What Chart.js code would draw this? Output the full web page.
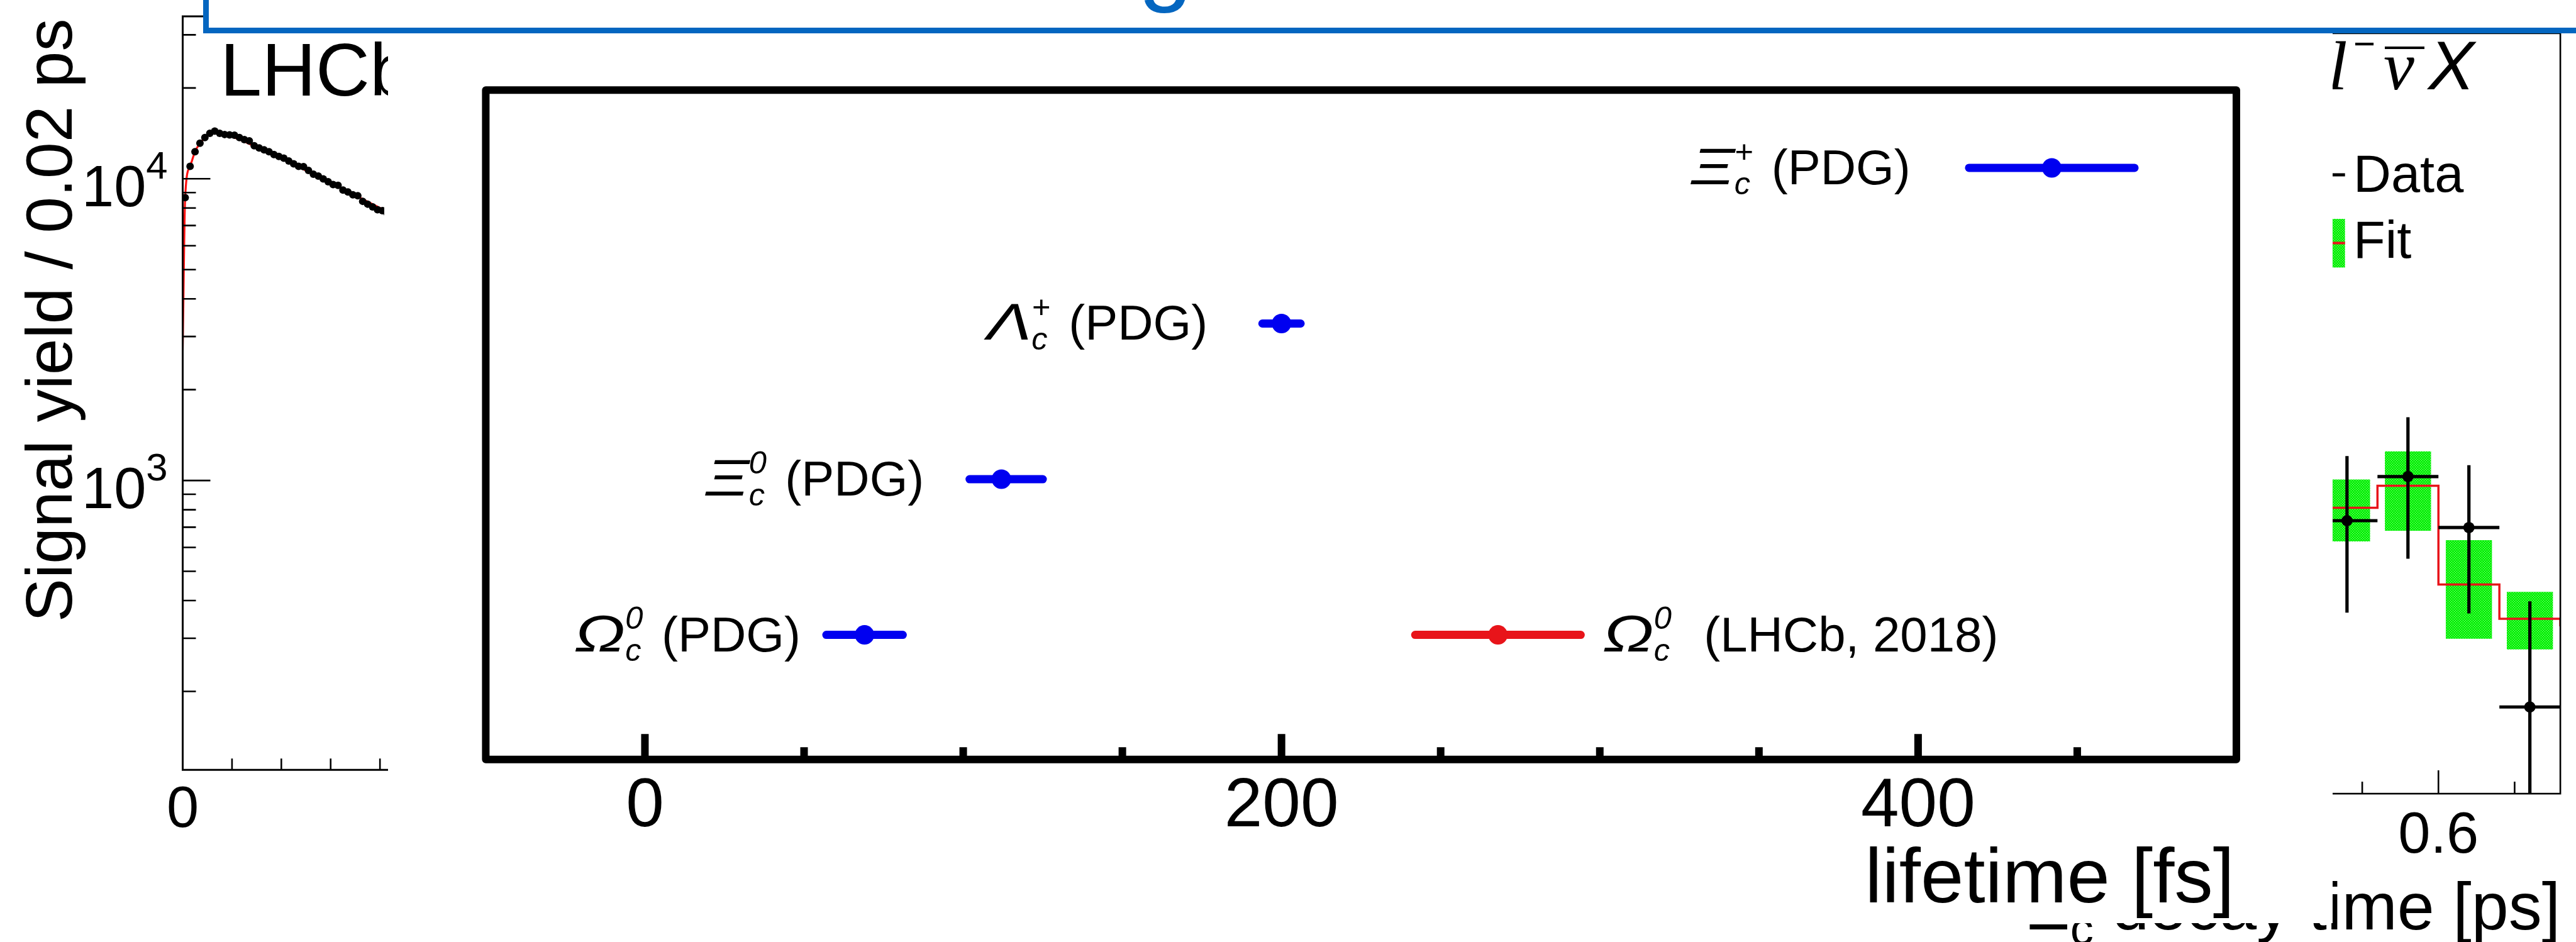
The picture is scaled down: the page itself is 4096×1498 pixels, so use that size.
<!DOCTYPE html>
<html>
<head>
<meta charset="utf-8">
<title>Charm baryon lifetimes</title>
<script src="https://cdn.jsdelivr.net/npm/chart.js@4.4.1/dist/chart.umd.min.js"></script>
<style>
  html, body { margin: 0; padding: 0; background: #fff; }
  body { width: 4096px; height: 1498px; position: relative; overflow: hidden; }
  canvas { position: absolute; display: block; }
  #cMain { background: #fff; }
  #titleBox {
    position: absolute; left: 323px; top: -200px; width: 3900px; height: 253px;
    box-sizing: border-box; background: #fff;
    border-left: 9px solid #0466c0; border-bottom: 9px solid #0466c0;
  }
  #titleText {
    position: absolute; left: 1810px; top: -142px; font: 155px/1 "Liberation Sans", Arial, sans-serif;
    color: #0466c0; white-space: nowrap;
  }
</style>
</head>
<body>
<canvas id="cLeft" width="617" height="1498" style="left:0;top:0"></canvas>
<canvas id="cRight" width="1502" height="1498" style="left:2594px;top:0"></canvas>
<canvas id="cMain" width="3092" height="1468" style="left:617px;top:0"></canvas>
<div id="titleBox"></div>
<div id="titleText">g</div>
<script>
// ---------- left panel: signal yield vs decay time (log scale) ----------
const leftTime = [0.01, 0.03, 0.05, 0.07, 0.09, 0.11, 0.13, 0.15, 0.17, 0.19, 0.21, 0.23, 0.25, 0.27,
  0.29, 0.31, 0.33, 0.35, 0.37, 0.39, 0.41, 0.43, 0.45, 0.47, 0.49, 0.51, 0.53, 0.55, 0.57, 0.59,
  0.61, 0.63, 0.65, 0.67, 0.69, 0.71, 0.73, 0.75, 0.77, 0.79, 0.81, 0.83];
const leftYield = [8665, 11000, 12290, 13120, 13690, 14140, 14390, 14140, 14020, 13980, 13940, 13690,
  13490, 13360, 12870, 12650, 12470, 12290, 12030, 11860, 11700, 11450, 11210, 11000, 10970, 10660,
  10360, 10210, 9990, 9780, 9570, 9510, 9170, 9040, 8850, 8790, 8420, 8240, 8070, 7900, 7840, 7670];
const leftFitTime = [0, 0.01, 0.03, 0.05, 0.07, 0.09, 0.11, 0.13, 0.15, 0.17, 0.19, 0.21, 0.23, 0.25,
  0.27, 0.29, 0.31, 0.33, 0.35, 0.37, 0.39, 0.41, 0.43, 0.45, 0.47, 0.49, 0.51, 0.53, 0.55, 0.57,
  0.59, 0.61, 0.63, 0.65, 0.67, 0.69, 0.71, 0.73, 0.75, 0.77, 0.79, 0.81, 0.83];
const leftFitYield = [2700, 8700, 11000, 12300, 13100, 13650, 14000, 14150, 14150, 14050, 13900, 13700,
  13500, 13300, 13050, 12850, 12600, 12400, 12200, 11950, 11750, 11550, 11350, 11150, 10950, 10750,
  10550, 10350, 10150, 9950, 9780, 9600, 9420, 9240, 9070, 8900, 8730, 8560, 8400, 8240, 8080, 7930, 7780];
const leftDecades = [1000, 10000];
const leftDecadeExp = ['3', '4'];
const leftMinorY = [200, 300, 400, 500, 600, 700, 800, 900, 2000, 3000, 4000, 5000, 6000, 7000, 8000, 9000, 20000, 30000];
const leftMinorX = [0.2, 0.4, 0.6, 0.8];
const leftXLabels = ['0'];
const leftXLabelValues = [0];

// ---------- right panel: decay-time bins with fit ----------
const binCentre = [0.54, 0.58, 0.62, 0.66];
const binHalfWidth = [0.02, 0.02, 0.02, 0.02];
const binYield = [35.9, 41.7, 35.0, 11.4];
const binErrUp = [8.5, 7.8, 8.2, 13.9];
const binErrDown = [12.1, 10.8, 11.3, 11.4];
const fitEdge = [0.52, 0.56, 0.60, 0.64, 0.68];
const fitStep = [37.6, 40.5, 27.5, 23.0, 22.0];
const fitBandLow = [33.2, 34.6, 20.4, 19.0];
const fitBandHigh = [41.3, 45.0, 33.3, 26.5];
const rightMajorX = [0.4, 0.6];
const rightMinorX = [0.35, 0.45, 0.5, 0.55, 0.65];
const rightXLabels = ['0.4', '0.6'];

// ---------- main panel: lifetime comparison ----------
const rows = ['Ξc+', 'Λc+', 'Ξc0', 'Ωc0'];
const entryRow = ['Ξc+', 'Λc+', 'Ξc0', 'Ωc0', 'Ωc0'];
const entryGreek = ['Ξ', 'Λ', 'Ξ', 'Ω', 'Ω'];
const entrySub = ['c', 'c', 'c', 'c', 'c'];
const entrySup = ['+', '+', '0', '0', '0'];
const entrySource = [' (PDG)', ' (PDG)', ' (PDG)', ' (PDG)', '  (LHCb, 2018)'];
const lifetime = [442, 200, 112, 69, 268];
const errMinus = [26, 6, 10, 12, 26];
const errPlus = [26, 6, 13, 12, 26];
const lifetimeMajor = [0, 200, 400];
const lifetimeMinor = [50, 100, 150, 250, 300, 350, 450];
const lifetimeLabels = ['0', '200', '400'];

// ---------- layout / style ----------
const K = 4096 / 7896;
const SANS = '"Liberation Sans", Arial, Helvetica, sans-serif';
const SERIF = '"Liberation Serif", "Times New Roman", serif';
const BLUE = '#0000f0';
const RED = '#e8141a';
const entryColor = i => (entrySource[i].indexOf('LHCb') >= 0 ? RED : BLUE);
// label anchor (fs) and side for each entry
const labelLayout = { side: ['left', 'left', 'left', 'left', 'right'], anchor: [397.6, 176.8, 87.7, 48.9, 301] };

function measureParts(ctx, parts) {
  let w = 0;
  for (const p of parts) {
    ctx.font = p.font;
    if (p.t !== undefined) p.w = ctx.measureText(p.t).width * (p.sx || 1);
    else p.w = Math.max(ctx.measureText(p.sub || '').width, ctx.measureText(p.sup || '').width);
    w += p.w + (p.gap || 0);
  }
  return w;
}
function drawParts(ctx, parts, x, y, align) {
  const w = measureParts(ctx, parts);
  let cx = align === 'right' ? x - w : (align === 'center' ? x - w / 2 : x);
  ctx.textAlign = 'left';
  ctx.textBaseline = 'alphabetic';
  for (const p of parts) {
    ctx.font = p.font;
    if (p.t !== undefined) {
      ctx.save();
      ctx.translate(cx, y + (p.dy || 0));
      ctx.scale(p.sx || 1, 1);
      ctx.fillText(p.t, 0, 0);
      ctx.restore();
    } else {
      if (p.sub) ctx.fillText(p.sub, cx, y + p.subDy);
      if (p.sup) ctx.fillText(p.sup, cx, y + p.supDy);
    }
    cx += p.w + (p.gap || 0);
  }
}

const common = {
  responsive: false, animation: false, events: [], devicePixelRatio: 1,
  plugins: { legend: { display: false }, tooltip: { enabled: false } }
};

// ======= left panel =======
const leftDecor = {
  id: 'leftDecor',
  afterDraw(chart) {
    const { ctx, chartArea: a, scales: { x, y } } = chart;
    ctx.save();
    ctx.strokeStyle = '#000';
    ctx.lineWidth = 3;
    ctx.beginPath();
    ctx.moveTo(a.right + 20, a.top); ctx.lineTo(a.left, a.top);
    ctx.lineTo(a.left, a.bottom); ctx.lineTo(a.right + 20, a.bottom);
    ctx.stroke();
    ctx.lineWidth = 2.6;
    ctx.beginPath();
    leftDecades.forEach(v => { const p = y.getPixelForValue(v); ctx.moveTo(a.left, p); ctx.lineTo(a.left + 44, p); });
    leftMinorY.forEach(v => { const p = y.getPixelForValue(v); ctx.moveTo(a.left, p); ctx.lineTo(a.left + 21, p); });
    leftMinorX.forEach(v => { const p = x.getPixelForValue(v); ctx.moveTo(p, a.bottom); ctx.lineTo(p, a.bottom - 18); });
    ctx.stroke();
    ctx.fillStyle = '#000';
    const F = 92;
    leftDecades.forEach((v, i) => {
      const p = y.getPixelForValue(v);
      drawParts(ctx, [
        { t: '10', font: `${F}px ${SANS}` },
        { t: leftDecadeExp[i], font: `${0.67 * F}px ${SANS}`, dy: -0.48 * F }
      ], 266.6, p + 44, 'right');
    });
    ctx.font = `${F}px ${SANS}`;
    ctx.textAlign = 'center';
    leftXLabelValues.forEach((v, i) => ctx.fillText(leftXLabels[i], x.getPixelForValue(v), 1315));
    // axis title
    ctx.save();
    ctx.translate(114, 29.6);
    ctx.rotate(-Math.PI / 2);
    ctx.font = `104px ${SANS}`;
    ctx.textAlign = 'right';
    ctx.fillText('Signal yield / 0.02 ps', 0, 0);
    ctx.restore();
    ctx.font = `119px ${SANS}`;
    ctx.textAlign = 'left';
    ctx.fillText('LHCb', 350, 152);
    ctx.restore();
  }
};

const leftArea = { left: 560 * K, top: 50 * K, bottom: 2360 * K, right: 617 };
new Chart(document.getElementById('cLeft'), {
  type: 'scatter',
  data: {
    datasets: [
      { type: 'scatter', data: leftTime.map((t, i) => ({ x: t, y: leftYield[i] })),
        backgroundColor: '#000', borderWidth: 0, pointRadius: 6, order: 0 },
      { type: 'line', data: leftFitTime.map((t, i) => ({ x: t, y: leftFitYield[i] })),
        borderColor: '#ff1010', borderWidth: 3.2, pointRadius: 0, showLine: true,
        cubicInterpolationMode: 'monotone', order: 1 }
    ]
  },
  options: Object.assign({}, common, {
    layout: { padding: { left: leftArea.left, top: leftArea.top, right: 0, bottom: 1498 - leftArea.bottom } },
    scales: {
      x: { type: 'linear', display: false, min: 0, max: (617 / K - 560) / 770 },
      y: { type: 'logarithmic', display: false, min: 109.9, max: 34550 }
    }
  }),
  plugins: [leftDecor]
});

// ======= right panel =======
function greenPattern() {
  const c = document.createElement('canvas');
  c.width = 4; c.height = 4;
  const g = c.getContext('2d');
  g.fillStyle = '#08f008'; g.fillRect(0, 0, 4, 4);
  g.fillStyle = '#a6fba6'; g.fillRect(0, 0, 1, 1); g.fillRect(2, 2, 1, 1);
  return g.createPattern(c, 'repeat');
}

const rightDecor = {
  id: 'rightDecor',
  afterDatasetsDraw(chart) {
    const { ctx, chartArea: a, scales: { x, y } } = chart;
    ctx.save();
    ctx.beginPath();
    ctx.rect(a.left, a.top, a.right - a.left, a.bottom - a.top);
    ctx.clip();
    ctx.strokeStyle = '#000';
    ctx.lineWidth = 5.2;
    ctx.beginPath();
    binCentre.forEach((c, i) => {
      const px = x.getPixelForValue(c), py = y.getPixelForValue(binYield[i]);
      ctx.moveTo(x.getPixelForValue(c - binHalfWidth[i]), py);
      ctx.lineTo(x.getPixelForValue(c + binHalfWidth[i]), py);
      ctx.moveTo(px, y.getPixelForValue(binYield[i] + binErrUp[i]));
      ctx.lineTo(px, y.getPixelForValue(binYield[i] - binErrDown[i]));
    });
    ctx.stroke();
    ctx.restore();
  },
  afterDraw(chart) {
    const { ctx, chartArea: a, scales: { x } } = chart;
    ctx.save();
    ctx.strokeStyle = '#000';
    ctx.lineWidth = 2.6;
    ctx.strokeRect(a.left, a.top, a.right - a.left, a.bottom - a.top);
    ctx.beginPath();
    rightMajorX.forEach(v => { const p = x.getPixelForValue(v); ctx.moveTo(p, a.bottom); ctx.lineTo(p, a.bottom - 37); });
    rightMinorX.forEach(v => { const p = x.getPixelForValue(v); ctx.moveTo(p, a.bottom); ctx.lineTo(p, a.bottom - 19); });
    ctx.stroke();
    ctx.fillStyle = '#000';
    ctx.font = `92px ${SANS}`;
    ctx.textAlign = 'center';
    ctx.textBaseline = 'alphabetic';
    rightMajorX.forEach((v, i) => ctx.fillText(rightXLabels[i], x.getPixelForValue(v), 1355.5));
    // axis title
    const F = 106;
    drawParts(ctx, [
      { t: 'Ξ', font: `${F}px ${SANS}` },
      { sub: 'c', font: `${0.7 * F}px ${SANS}`, subDy: 0.22 * F },
      { t: ' decay time [ps]', font: `${F}px ${SANS}` }
    ], a.right, 1478.4, 'right');
    // decay label
    const oX = -2594;
    ctx.font = `italic 110px ${SERIF}`;
    ctx.textAlign = 'left';
    ctx.fillText('l', 3702 + oX, 142);
    ctx.font = `60px ${SANS}`;
    ctx.fillText('−', 3742 + oX, 89.5);
    ctx.font = `italic 110px ${SERIF}`;
    ctx.fillText('ν', 3790 + oX, 142);
    ctx.fillRect(3792 + oX, 74, 63, 4);
    ctx.font = `italic 110px ${SANS}`;
    ctx.fillText('X', 3861 + oX, 142);
    // legend
    ctx.lineWidth = 5;
    ctx.beginPath(); ctx.moveTo(3641.6 + oX, 278); ctx.lineTo(3728.7 + oX, 278); ctx.stroke();
    ctx.fillStyle = greenPattern();
    ctx.fillRect(3641.6 + oX, 348.1, 87.1, 77.3);
    ctx.strokeStyle = RED; ctx.lineWidth = 4;
    ctx.beginPath(); ctx.moveTo(3641.6 + oX, 386.5); ctx.lineTo(3728.7 + oX, 386.5); ctx.stroke();
    ctx.fillStyle = '#000';
    ctx.font = `83px ${SANS}`;
    ctx.fillText('Data', 3742 + oX, 304.5);
    ctx.fillText('Fit', 3742 + oX, 410.3);
    ctx.restore();
  }
};

const rightArea = { left: 6073 * K - 2594, right: 7848 * K - 2594, top: 102 * K, bottom: 2433 * K };
new Chart(document.getElementById('cRight'), {
  type: 'scatter',
  data: {
    datasets: [
      { type: 'scatter', data: binCentre.map((c, i) => ({ x: c, y: binYield[i] })),
        backgroundColor: '#000', borderWidth: 0, pointRadius: 9, order: 0 },
      { type: 'line', data: fitEdge.map((e, i) => ({ x: e, y: fitStep[i] })),
        borderColor: RED, borderWidth: 3.5, pointRadius: 0, showLine: true, stepped: 'before', order: 1 },
      { type: 'bar', data: binCentre.map((c, i) => ({ x: c, y: [fitBandLow[i], fitBandHigh[i]] })),
        backgroundColor: greenPattern(), borderWidth: 0, barPercentage: 1, categoryPercentage: 1, order: 2 }
    ]
  },
  options: Object.assign({}, common, {
    layout: { padding: { left: rightArea.left, right: 1502 - rightArea.right, top: rightArea.top, bottom: 1498 - rightArea.bottom } },
    scales: {
      x: { type: 'linear', display: false, offset: false, min: 0.3, max: 0.68, ticks: { stepSize: 0.05 } },
      y: { type: 'linear', display: false, min: 0, max: 100 }
    }
  }),
  plugins: [rightDecor]
});

// ======= main panel =======
const rowValue = r => rows.length - rows.indexOf(r);

const mainDecor = {
  id: 'mainDecor',
  afterDraw(chart) {
    const { ctx, chartArea: a, scales: { x, y } } = chart;
    ctx.save();
    ctx.strokeStyle = '#000';
    ctx.lineWidth = 12;
    ctx.lineJoin = 'round';
    ctx.strokeRect(a.left, a.top, a.right - a.left, a.bottom - a.top);
    ctx.beginPath();
    lifetimeMajor.forEach(v => { const p = x.getPixelForValue(v); ctx.moveTo(p, a.bottom); ctx.lineTo(p, a.bottom - 40.5); });
    lifetimeMinor.forEach(v => { const p = x.getPixelForValue(v); ctx.moveTo(p, a.bottom); ctx.lineTo(p, a.bottom - 19.5); });
    ctx.stroke();
    ctx.fillStyle = '#000';
    ctx.font = `109px ${SANS}`;
    ctx.textAlign = 'center';
    ctx.textBaseline = 'alphabetic';
    lifetimeMajor.forEach((v, i) => ctx.fillText(lifetimeLabels[i], x.getPixelForValue(v), 1314));
    ctx.font = `123px ${SANS}`;
    ctx.textAlign = 'right';
    ctx.fillText('lifetime [fs]', a.right - 3, 1435.4);
    // entry labels
    const F = 78;
    lifetime.forEach((t, i) => {
      const py = y.getPixelForValue(rowValue(entryRow[i]));
      const px = x.getPixelForValue(labelLayout.anchor[i]);
      drawParts(ctx, [
        { t: entryGreek[i], font: `italic ${1.05 * F}px ${SANS}`, sx: 1.3 },
        { sub: entrySub[i], sup: entrySup[i], font: `italic ${0.65 * F}px ${SANS}`, subDy: 0.2 * F, supDy: -0.45 * F, gap: 0.1 * F },
        { t: entrySource[i], font: `${F}px ${SANS}` }
      ], px, py + 26, labelLayout.side[i] === 'left' ? 'right' : 'left');
    });
    ctx.restore();
  }
};

const mainArea = { left: 1489 * K - 617, right: 6855 * K - 617, top: 276 * K, bottom: 2328 * K };
const mainSets = [
  { type: 'scatter', data: lifetime.map((t, i) => ({ x: t, y: rowValue(entryRow[i]) })),
    backgroundColor: lifetime.map((t, i) => entryColor(i)), borderWidth: 0, pointRadius: 15.5, order: 0 }
];
lifetime.forEach((t, i) => {
  const yv = rowValue(entryRow[i]);
  mainSets.push({ type: 'line', data: [{ x: t - errMinus[i], y: yv }, { x: t + errPlus[i], y: yv }],
    borderColor: entryColor(i), borderWidth: 13, borderCapStyle: 'round', pointRadius: 0, showLine: true, order: 1 });
});
new Chart(document.getElementById('cMain'), {
  type: 'scatter',
  data: { datasets: mainSets },
  options: Object.assign({}, common, {
    layout: { padding: { left: mainArea.left, right: 3092 - mainArea.right, top: mainArea.top, bottom: 1468 - mainArea.bottom } },
    scales: {
      x: { type: 'linear', display: false, min: -50, max: 500 },
      y: { type: 'linear', display: false, min: 0.2, max: 4.5 }
    }
  }),
  plugins: [mainDecor]
});
</script>
</body>
</html>
